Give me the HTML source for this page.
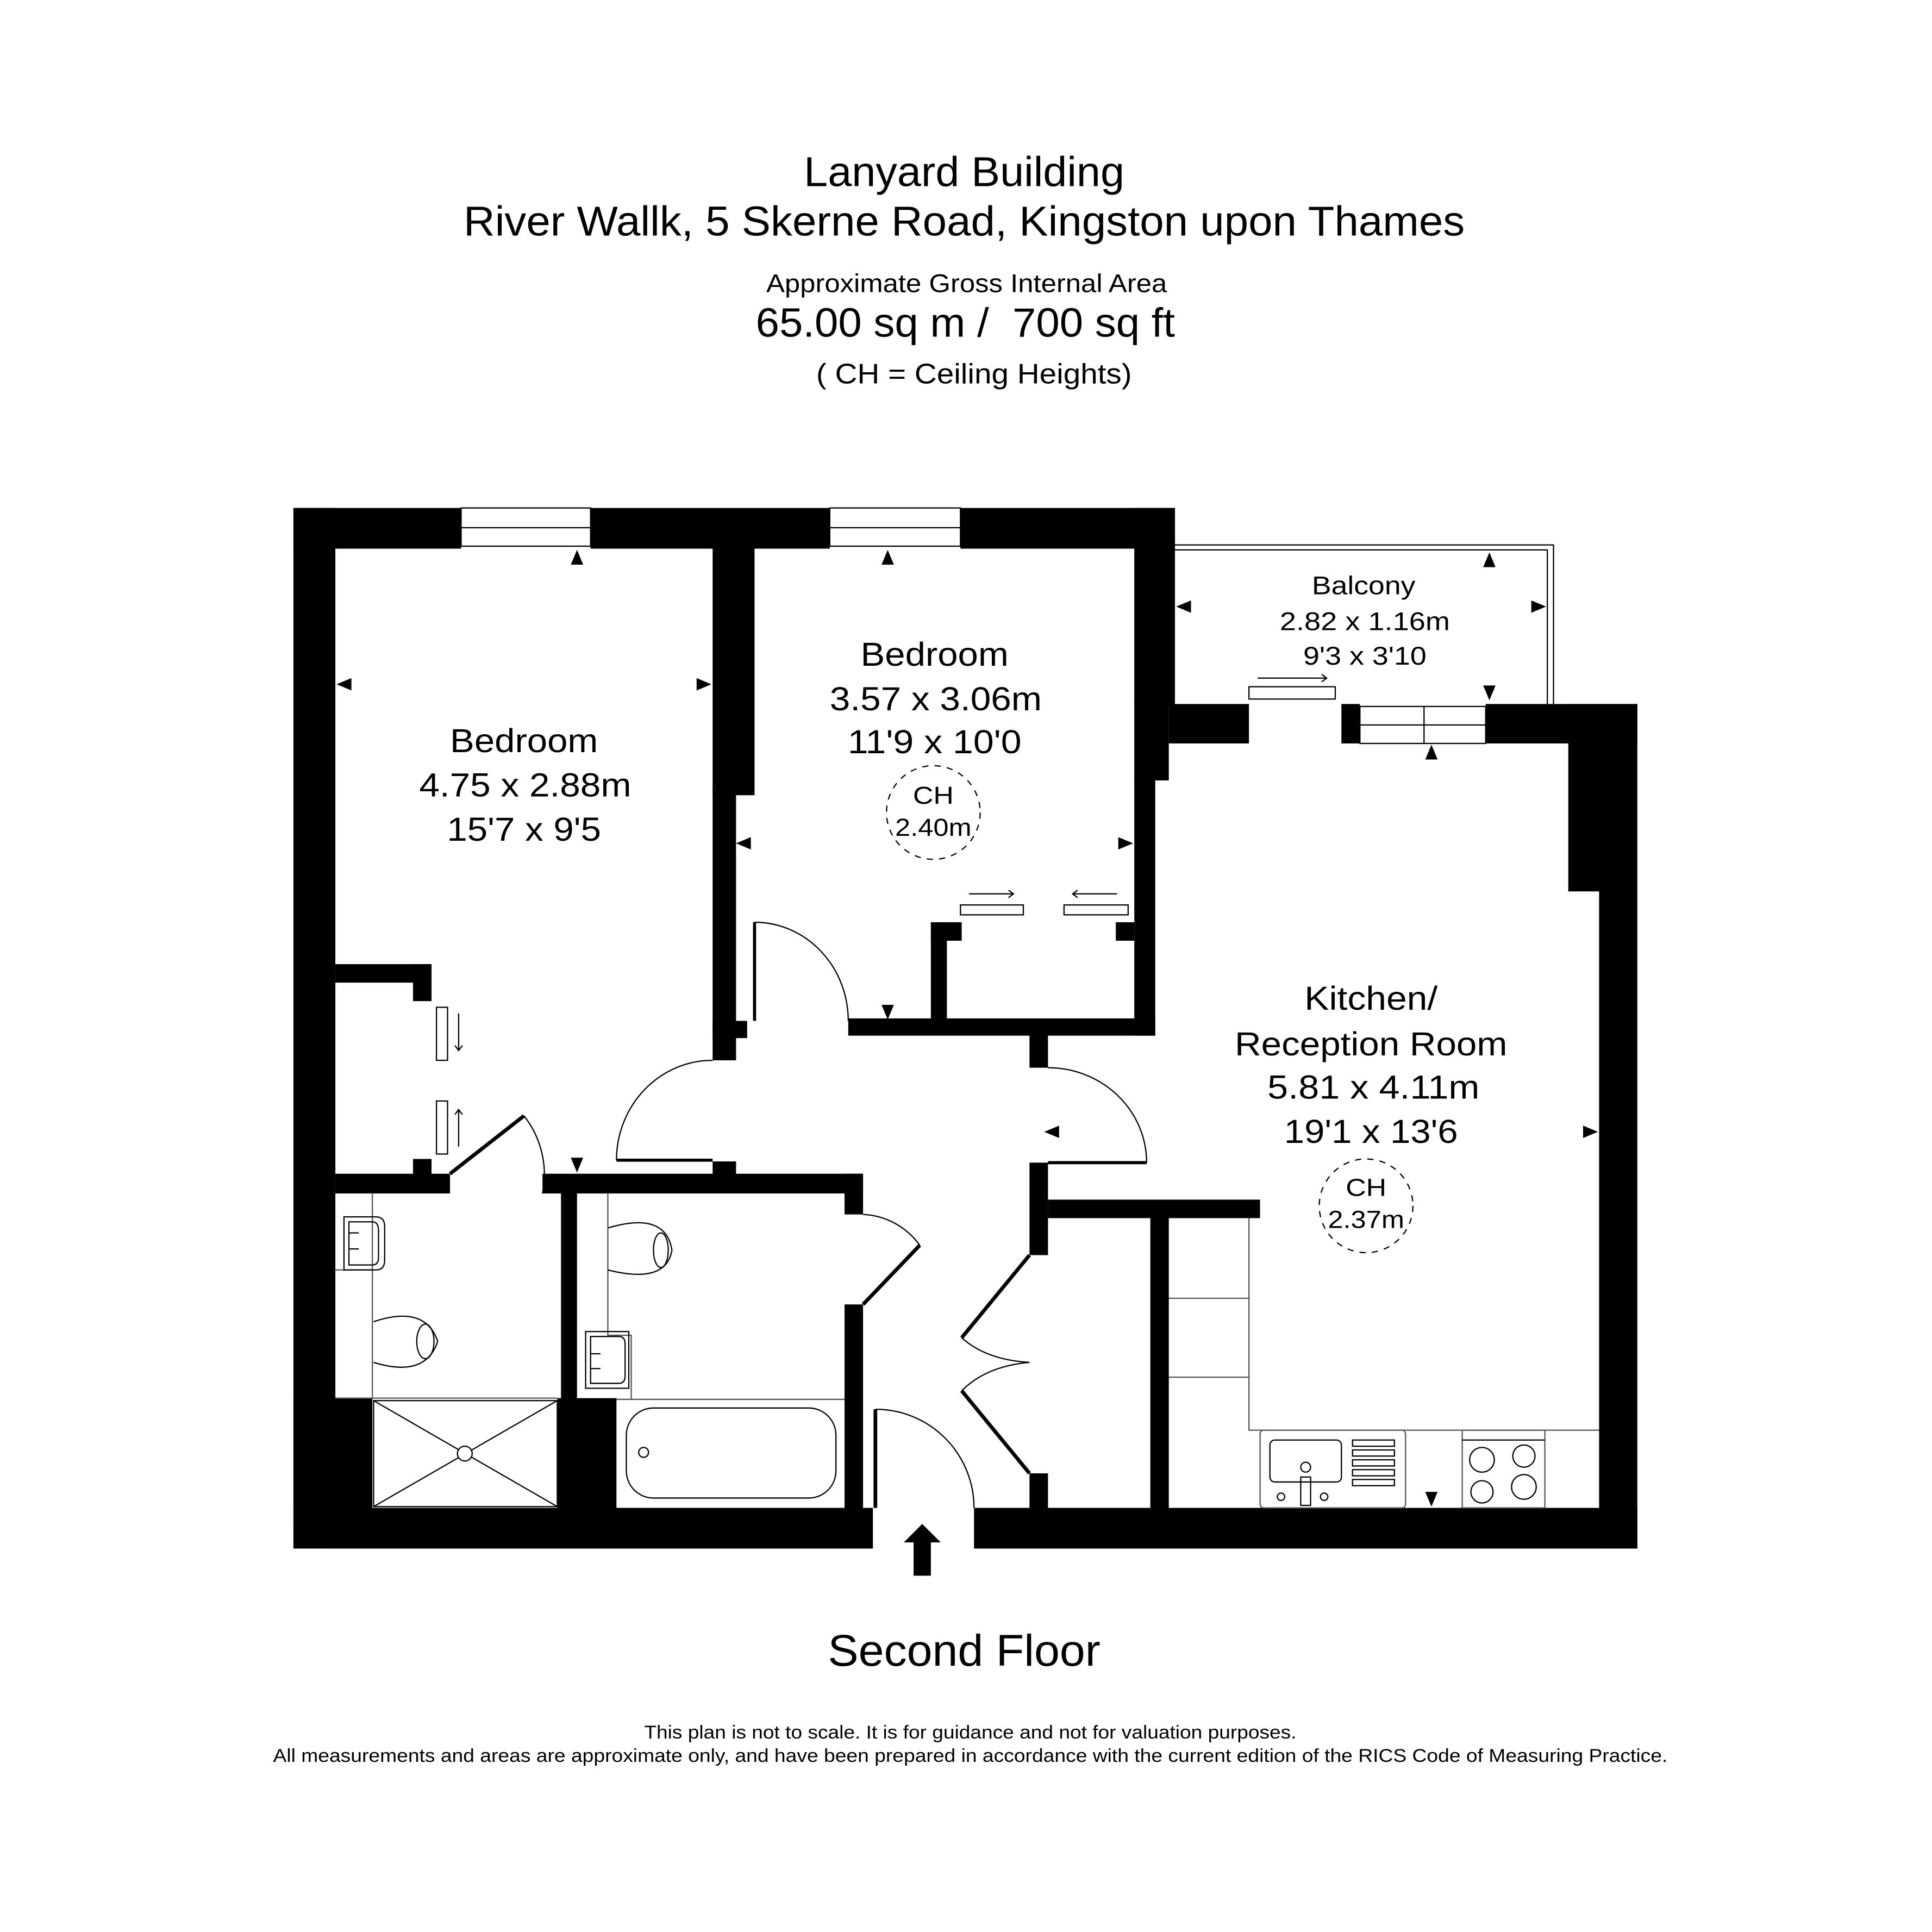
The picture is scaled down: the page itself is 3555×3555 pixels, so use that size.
<!DOCTYPE html>
<html><head><meta charset="utf-8"><style>
html,body{margin:0;padding:0;background:#fff;}
svg{display:block;}
text{font-family:"Liberation Sans",Arial,sans-serif;fill:#000;}
</style></head><body>
<svg width="3555" height="3555" viewBox="0 0 1567 1567" xmlns="http://www.w3.org/2000/svg">
<rect width="1567" height="1567" fill="#fff"/>
<g text-anchor="middle">
<text x="782" y="151" font-size="34" textLength="260" lengthAdjust="spacingAndGlyphs">Lanyard Building</text>
<text x="782" y="191" font-size="34" textLength="812" lengthAdjust="spacingAndGlyphs">River Wallk, 5 Skerne Road, Kingston upon Thames</text>
<text x="784" y="237" font-size="21" textLength="325" lengthAdjust="spacingAndGlyphs">Approximate Gross Internal Area</text>
<text x="783" y="273" font-size="33" textLength="340" lengthAdjust="spacingAndGlyphs" xml:space="preserve">65.00 sq m /  700 sq ft</text>
<text x="790" y="311" font-size="23" textLength="256" lengthAdjust="spacingAndGlyphs">( CH = Ceiling Heights)</text>
</g>

<g fill="#000">
<rect x="238" y="412" width="136" height="33"/>
<rect x="479" y="412" width="194" height="33"/>
<rect x="779" y="412" width="174" height="33"/>
<rect x="238" y="412" width="34" height="844"/>
<rect x="238" y="1223" width="470" height="33"/>
<rect x="790" y="1223" width="538" height="33"/>
<rect x="238" y="1134" width="64" height="100"/>
<rect x="452" y="1134" width="48" height="100"/>
<rect x="578" y="440" width="34" height="205"/>
<rect x="578" y="640" width="19" height="220"/>
<rect x="578" y="828" width="28" height="14"/>
<rect x="920" y="412" width="33" height="160"/>
<rect x="920" y="568" width="28" height="65"/>
<rect x="920" y="630" width="17" height="210"/>
<rect x="688" y="826" width="249" height="14"/>
<rect x="755" y="748" width="13" height="80"/>
<rect x="755" y="748" width="25" height="15"/>
<rect x="905" y="748" width="15" height="15"/>
<rect x="272" y="782" width="78" height="15"/>
<rect x="335" y="782" width="15" height="30"/>
<rect x="335" y="940" width="15" height="14"/>
<rect x="272" y="952" width="93" height="16"/>
<rect x="440" y="952" width="260" height="16"/>
<rect x="578" y="942" width="19" height="12"/>
<rect x="685" y="952" width="15" height="33"/>
<rect x="685" y="1058" width="15" height="170"/>
<rect x="455" y="960" width="13" height="180"/>
<rect x="835" y="838" width="15" height="28"/>
<rect x="835" y="943" width="15" height="75"/>
<rect x="850" y="973" width="172" height="15"/>
<rect x="933" y="980" width="15" height="245"/>
<rect x="835" y="1195" width="15" height="30"/>
<rect x="948" y="571" width="65" height="32"/>
<rect x="1088" y="571" width="15" height="32"/>
<rect x="1205" y="571" width="123" height="32"/>
<rect x="1297" y="571" width="31" height="685"/>
<rect x="1272" y="571" width="30" height="152"/>
<polygon points="748,1236 763,1251 755,1251 755,1278 741,1278 741,1251 733,1251"/>
</g>

<g fill="none" stroke="#000" stroke-width="1">
<rect x="374" y="412" width="105" height="31"/><line x1="374" y1="428" x2="479" y2="428"/>
<rect x="673" y="412" width="106" height="31"/><line x1="673" y1="428" x2="779" y2="428"/>
<rect x="1103" y="573" width="102" height="30"/><line x1="1103" y1="588" x2="1205" y2="588"/><line x1="1155" y1="573" x2="1155" y2="603"/>
<polyline points="953,442 1260,442 1260,571"/>
<polyline points="953,446 1255,446 1255,571"/>
<rect x="779" y="734" width="51" height="8"/>
<rect x="863" y="734" width="52" height="8"/>
<rect x="1013" y="557" width="70" height="10"/>
<rect x="354" y="817" width="9" height="43"/>
<rect x="354" y="893" width="9" height="43"/>
<path d="M786 725 H822 M818 722 L822 725 L818 728"/>
<path d="M870 725 H906 M874 722 L870 725 L874 728"/>
<path d="M1020 550 H1076 M1072 547 L1076 550 L1072 553"/>
<path d="M372 822 V852 M369 848 L372 852 L375 848"/>
<path d="M372 930 V900 M369 904 L372 900 L375 904"/>
<line x1="612" y1="748" x2="612" y2="828" stroke-width="2.5"/>
<path d="M612 748 A76 80 0 0 1 688 828"/>
<line x1="500" y1="941" x2="578" y2="941" stroke-width="2.5"/>
<path d="M578 860 A78 81 0 0 0 500 941"/>
<line x1="365" y1="952" x2="425" y2="905" stroke-width="3"/>
<path d="M425 905 A77 77 0 0 1 440 968"/>
<line x1="850" y1="943" x2="930" y2="943" stroke-width="2.5"/>
<path d="M850 866 A80 77 0 0 1 930 943"/>
<line x1="700" y1="1058" x2="746" y2="1010" stroke-width="3"/>
<path d="M700 985 A60 60 0 0 1 746 1010"/>
<line x1="835" y1="1018" x2="780" y2="1085" stroke-width="3"/>
<path d="M780 1085 Q800 1103 835 1105"/>
<line x1="835" y1="1195" x2="780" y2="1128" stroke-width="3"/>
<path d="M780 1128 Q800 1108 835 1105"/>
<line x1="710" y1="1143" x2="710" y2="1223" stroke-width="3"/>
<path d="M710 1143 A80 80 0 0 1 790 1223"/>
<path d="M302 968 V1030 H272 M302 1030 V1134 H272" stroke="#555"/>
<line x1="272" y1="1134" x2="452" y2="1134" stroke="#555"/>
<rect x="303" y="1136" width="149" height="86"/>
<path d="M303 1136 L452 1222 M452 1136 L303 1222"/>
<circle cx="377" cy="1179" r="6" fill="#fff"/>
<path d="M279 987 H305 Q312 987 312 995 V1022 Q312 1030 305 1030 H279 Z"/>
<path d="M283 991 H302 Q307 991 307 998 V1020 Q307 1026 302 1026 H283 Z"/>
<path d="M283 1000 H291 M283 1013 H291"/>
<path d="M303 1072 Q345 1058 355 1088 Q345 1118 303 1105"/>
<ellipse cx="345" cy="1088" rx="7" ry="14"/>
<path d="M493 968 V1083 H512 V1135" stroke="#555"/>
<rect x="475" y="1080" width="35" height="46"/>
<path d="M479 1084 H502 Q507 1084 507 1090 V1116 Q507 1122 502 1122 H479 Z"/>
<path d="M479 1098 H487 M479 1110 H487"/>
<path d="M493 996 Q540 982 545 1014 Q540 1042 493 1030"/>
<ellipse cx="536" cy="1014" rx="6" ry="14"/>
<line x1="500" y1="1135" x2="685" y2="1135" stroke="#555"/>
<rect x="508" y="1142" width="170" height="73" rx="22"/>
<circle cx="522" cy="1178" r="4"/>
<path d="M1013 988 V1160 H1297" stroke="#555"/>
<path d="M948 1053 H1013 M948 1117 H1013" stroke="#555"/>
<rect x="1022" y="1160" width="118" height="63" rx="3" stroke="#555"/>
<rect x="1030" y="1168" width="58" height="34" rx="4"/>
<path d="M1097 1168 h34 v5 h-34 z M1097 1176 h34 v5 h-34 z M1097 1184 h34 v5 h-34 z M1097 1192 h34 v5 h-34 z M1097 1200 h34 v5 h-34 z"/>
<circle cx="1059" cy="1190" r="4"/><circle cx="1039" cy="1214" r="3"/><circle cx="1074" cy="1214" r="3"/>
<rect x="1055" y="1198" width="8" height="23"/>
<rect x="1186" y="1160" width="67" height="63" stroke="#555"/>
<line x1="1186" y1="1168" x2="1253" y2="1168"/>
<circle cx="1202" cy="1184" r="10"/><circle cx="1236" cy="1181" r="9"/>
<circle cx="1202" cy="1210" r="9"/><circle cx="1236" cy="1206" r="10"/>
<circle cx="757" cy="659" r="38" stroke-dasharray="5 5"/>
<circle cx="1108" cy="978" r="38" stroke-dasharray="5 5"/>
</g>

<g fill="#000">
<polygon points="468,446 463,458 473,458"/>
<polygon points="720,446 715,458 725,458"/>
<polygon points="273,555 285,550 285,560"/>
<polygon points="577,555 565,550 565,560"/>
<polygon points="597,684 609,679 609,689"/>
<polygon points="919,684 907,679 907,689"/>
<polygon points="720,827 715,815 725,815"/>
<polygon points="468,951 463,939 473,939"/>
<polygon points="847,918 859,913 859,923"/>
<polygon points="1296,918 1284,913 1284,923"/>
<polygon points="1161,604 1156,616 1166,616"/>
<polygon points="1161,1222 1156,1210 1166,1210"/>
<polygon points="954,492 966,487 966,497"/>
<polygon points="1254,492 1242,487 1242,497"/>
<polygon points="1208,448 1203,460 1213,460"/>
<polygon points="1208,568 1203,556 1213,556"/>
</g>

<g text-anchor="middle" font-size="27">
<text x="425" y="610" textLength="120" lengthAdjust="spacingAndGlyphs">Bedroom</text>
<text x="426" y="646" textLength="172" lengthAdjust="spacingAndGlyphs">4.75 x 2.88m</text>
<text x="425" y="682" textLength="125" lengthAdjust="spacingAndGlyphs">15'7 x 9'5</text>
<text x="758" y="540" textLength="120" lengthAdjust="spacingAndGlyphs">Bedroom</text>
<text x="759" y="576" textLength="172" lengthAdjust="spacingAndGlyphs">3.57 x 3.06m</text>
<text x="758" y="611" textLength="141" lengthAdjust="spacingAndGlyphs">11'9 x 10'0</text>
<text x="1112" y="819" textLength="108" lengthAdjust="spacingAndGlyphs">Kitchen/</text>
<text x="1112" y="856" textLength="221" lengthAdjust="spacingAndGlyphs">Reception Room</text>
<text x="1114" y="891" textLength="172" lengthAdjust="spacingAndGlyphs">5.81 x 4.11m</text>
<text x="1112" y="927" textLength="141" lengthAdjust="spacingAndGlyphs">19'1 x 13'6</text>
</g>
<g text-anchor="middle" font-size="21">
<text x="1106" y="482" textLength="84" lengthAdjust="spacingAndGlyphs">Balcony</text>
<text x="1107" y="511" textLength="138" lengthAdjust="spacingAndGlyphs">2.82 x 1.16m</text>
<text x="1107" y="539" textLength="100" lengthAdjust="spacingAndGlyphs">9'3 x 3'10</text>
<text x="757" y="652" font-size="20" textLength="33" lengthAdjust="spacingAndGlyphs">CH</text>
<text x="757" y="678" font-size="20" textLength="62" lengthAdjust="spacingAndGlyphs">2.40m</text>
<text x="1108" y="970" font-size="20" textLength="33" lengthAdjust="spacingAndGlyphs">CH</text>
<text x="1108" y="996" font-size="20" textLength="62" lengthAdjust="spacingAndGlyphs">2.37m</text>
</g>

<text x="782" y="1351" font-size="36" text-anchor="middle" textLength="221" lengthAdjust="spacingAndGlyphs">Second Floor</text>
<text x="787" y="1410" font-size="15" text-anchor="middle" textLength="529" lengthAdjust="spacingAndGlyphs">This plan is not to scale. It is for guidance and not for valuation purposes.</text>
<text x="787" y="1429" font-size="15" text-anchor="middle" textLength="1131" lengthAdjust="spacingAndGlyphs">All measurements and areas are approximate only, and have been prepared in accordance with the current edition of the RICS Code of Measuring Practice.</text>
</svg>
</body></html>
